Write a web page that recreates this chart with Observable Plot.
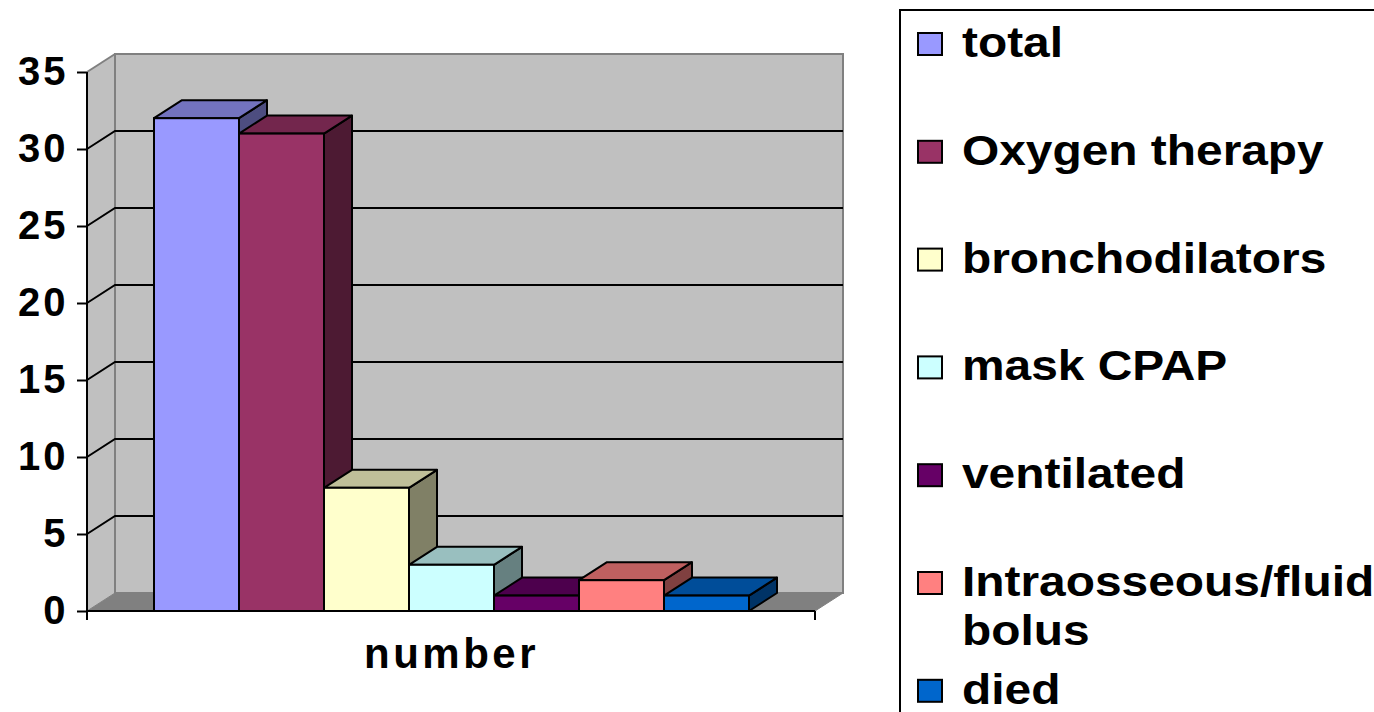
<!DOCTYPE html>
<html>
<head>
<meta charset="utf-8">
<script src="https://cdn.jsdelivr.net/npm/d3@7"></script>
<script src="https://cdn.jsdelivr.net/npm/@observablehq/plot@0.6"></script>
<style>
  html, body { margin: 0; padding: 0; background: #fff; overflow: hidden; }
  #wrap { position: relative; width: 1374px; height: 712px; overflow: hidden; font-family: "Liberation Sans", Arial, sans-serif; }
  #chart { position: absolute; left: 0; top: 0; }
  #legend { position: absolute; left: 0; top: 0; }
  #chart [aria-label^="y-axis"] text { letter-spacing: 3px; }
  #chart [aria-label^="y-axis"] line, #chart [aria-label^="y-axis"] path { stroke-width: 2px; stroke: #000; }
  #chart g[aria-label="text"] text { letter-spacing: 3.5px; }
</style>
</head>
<body>
<div id="wrap">
  <div id="chart"></div>
  <svg id="legend" width="1374" height="712"></svg>
</div>
<script>
// ---- data ----
const category = "number";
const series = ["total", "Oxygen therapy", "bronchodilators", "mask CPAP", "ventilated", "Intraosseous/fluid bolus", "died"];
const values = [32, 31, 8, 3, 1, 2, 1];
const yTicks = [0, 5, 10, 15, 20, 25, 30, 35];
const yMax = 35;

// ---- styles ----
const colors = ["#9999FF", "#993366", "#FFFFCC", "#CCFFFF", "#660066", "#FF8080", "#0066CC"];
const DX = 28, DY = -18;          // depth offset of the 3-D box in pixels
const shade = (c, f) => { const r = d3.rgb(c); return d3.rgb(r.r * f, r.g * f, r.b * f).formatHex(); };
const topColor = s => shade(colors[series.indexOf(s)], 0.75);
const sideColor = s => shade(colors[series.indexOf(s)], 0.5);

const data = series.map((s, i) => ({category, series: s, value: values[i]}));

const poly = pts => "M" + pts.map(p => p.join(",")).join("L") + "Z";
const bw = x => (typeof x.bandwidth === "function" ? x.bandwidth() : x.bandwidth);

// walls, floor and gridlines
function backdrop(index, scales, values, dims) {
  const {y} = scales;
  const x0 = dims.marginLeft, x1 = dims.width - dims.marginRight;
  const yb = y(0), yt = y(yMax);
  const g = d3.create("svg:g");
  g.append("path").attr("d", poly([[x0, yt], [x0 + DX, yt + DY], [x0 + DX, yb + DY], [x0, yb]]))
    .attr("fill", "#c0c0c0");
  g.append("path").attr("d", poly([[x0 + DX, yt + DY], [x1 + DX, yt + DY], [x1 + DX, yb + DY], [x0 + DX, yb + DY]]))
    .attr("fill", "#c0c0c0").attr("stroke", "#808080").attr("stroke-width", 2);
  g.append("path").attr("d", poly([[x0, yb], [x1, yb], [x1 + DX, yb + DY], [x0 + DX, yb + DY]]))
    .attr("fill", "#808080").attr("stroke", "#808080").attr("stroke-width", 1);
  g.append("line").attr("x1", x0).attr("y1", yt).attr("x2", x0 + DX).attr("y2", yt + DY)
    .attr("stroke", "#808080").attr("stroke-width", 2);
  for (const t of yTicks) {
    if (t === 0 || t === yMax) continue;
    const yy = y(t);
    g.append("path").attr("d", `M${x0},${yy}L${x0 + DX},${yy + DY}L${x1 + DX},${yy + DY}`)
      .attr("fill", "none").attr("stroke", "#000").attr("stroke-width", 2);
  }
  return g.node();
}

// side and top faces of each bar
function depthFaces(index, scales, values, dims) {
  const {x, y} = scales;
  const w = bw(x);
  const yb = y(0);
  const g = d3.create("svg:g").attr("stroke", "#000").attr("stroke-width", 2).attr("stroke-linejoin", "round");
  for (const d of data) {
    const a = x(d.series), b = a + w, t = y(d.value);
    g.append("path").attr("fill", sideColor(d.series))
      .attr("d", poly([[b, t], [b + DX, t + DY], [b + DX, yb + DY], [b, yb]]));
    g.append("path").attr("fill", topColor(d.series))
      .attr("d", poly([[a, t], [b, t], [b + DX, t + DY], [a + DX, t + DY]]));
  }
  return g.node();
}

// front axis lines
function frontAxes(index, scales, values, dims) {
  const {y} = scales;
  const x0 = dims.marginLeft, x1 = dims.width - dims.marginRight;
  const yb = y(0), yt = y(yMax);
  const g = d3.create("svg:g").attr("stroke", "#000").attr("stroke-width", 2).attr("fill", "none");
  g.append("path").attr("d", `M${x0},${yt}L${x0},${yb + 9}`);
  g.append("path").attr("d", `M${x0},${yb}L${x1},${yb}`);
  g.append("path").attr("d", `M${x1},${yb}L${x1},${yb + 9}`);
  return g.node();
}

const chart = Plot.plot({
  width: 880,
  height: 712,
  marginLeft: 87,
  marginRight: 65,
  marginTop: 72,
  marginBottom: 101,
  style: {fontFamily: '"Liberation Sans", Arial, sans-serif', fontSize: "40px", fontWeight: "bold", background: "transparent", color: "#000", overflow: "visible"},
  x: {type: "band", domain: series, paddingInner: 0, paddingOuter: 0.75, axis: null},
  y: {domain: [0, yMax], ticks: yTicks, tickSize: 10, tickPadding: 9, label: null, tickFormat: d => String(d)},
  color: {domain: series, range: colors},
  marks: [
    backdrop,
    depthFaces,
    Plot.barY(data, {x: "series", y: "value", fill: "series", stroke: "#000", strokeWidth: 2, inset: 0}),
    frontAxes,
    Plot.text([category], {frameAnchor: "bottom", text: d => d, dy: 56, fontSize: 42, fontWeight: "bold", fill: "#000"})
  ]
});
document.getElementById("chart").appendChild(chart);

// ---- legend ----
const lg = d3.select("#legend");
lg.append("rect").attr("x", 900).attr("y", 10).attr("width", 600).attr("height", 800)
  .attr("fill", "none").attr("stroke", "#000").attr("stroke-width", 2);
const textX = 962, sx = 1.14, maxW = (1372 - textX) / sx, lineH = 49;
series.forEach((s, i) => {
  const base = 57 + i * 107.8;
  lg.append("rect").attr("x", 918).attr("y", base - 24).attr("width", 24).attr("height", 22)
    .attr("fill", colors[i]).attr("stroke", "#000").attr("stroke-width", 2);
  const t = lg.append("text").attr("transform", `translate(${textX},${base}) scale(${sx},1)`)
    .attr("font-family", '"Liberation Sans", Arial, sans-serif').attr("font-size", 42)
    .attr("font-weight", "bold").attr("fill", "#000");
  const words = s.split(" ");
  let line = [], ln = 0;
  let tspan = t.append("tspan").attr("x", 0).attr("y", 0);
  for (const w of words) {
    line.push(w);
    tspan.text(line.join(" "));
    if (tspan.node().getComputedTextLength() > maxW && line.length > 1) {
      line.pop();
      tspan.text(line.join(" "));
      line = [w];
      ln++;
      tspan = t.append("tspan").attr("x", 0).attr("y", ln * lineH).text(w);
    }
  }
});
</script>
</body>
</html>
